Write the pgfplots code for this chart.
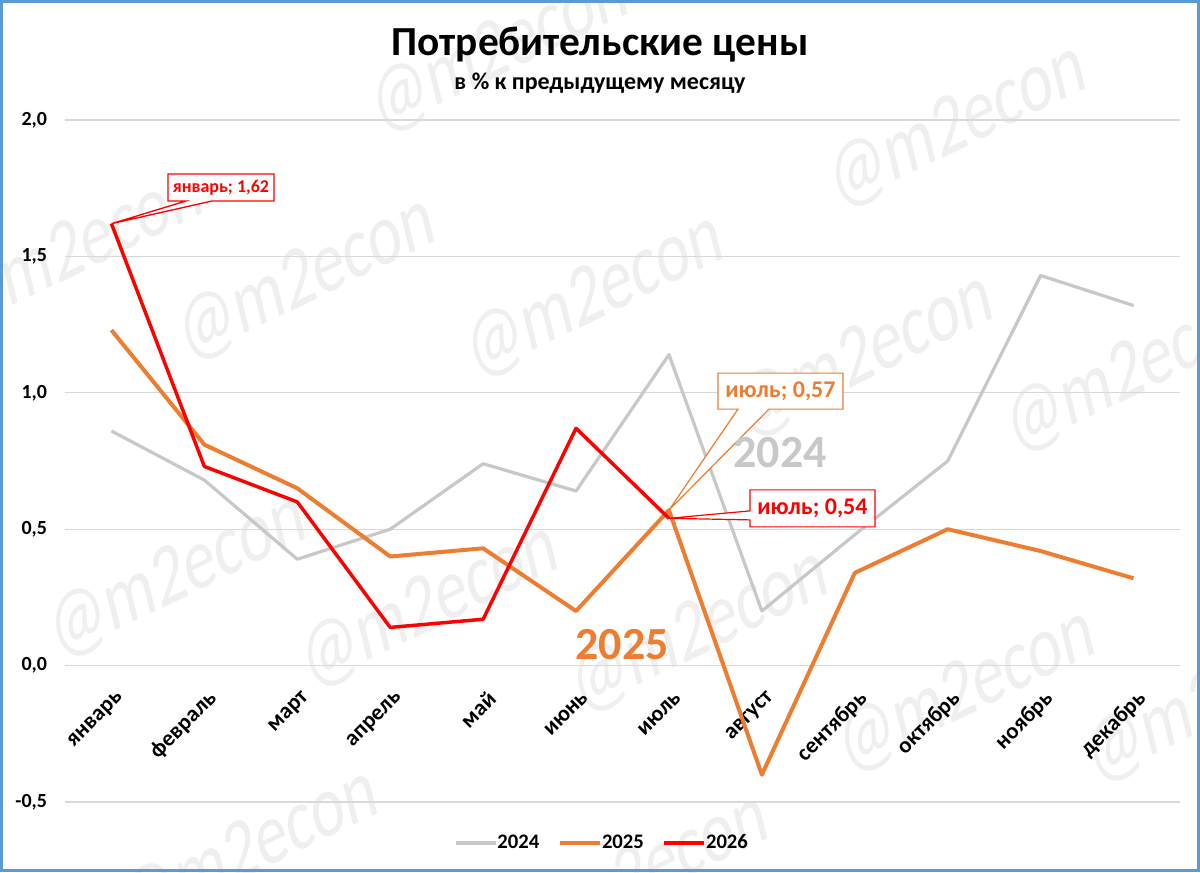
\documentclass[border=0pt]{standalone}
\usepackage{pgfplots}
\pgfplotsset{compat=1.18}
\usepackage{fontspec}
\setmainfont{Carlito}
\definecolor{gray24}{HTML}{C8C8C8}
\definecolor{or25}{HTML}{ED7D31}
\definecolor{red26}{HTML}{FF0000}
\definecolor{gridc}{HTML}{D9D9D9}
\definecolor{framec}{HTML}{5B9BD5}
\definecolor{wm}{HTML}{EFEFEF}
\begin{document}
\begin{tikzpicture}
\begin{scope}[x=0.75pt,y=-0.75pt]
\path[use as bounding box] (0,0) rectangle (1200,872);
\fill[white] (0,0) rectangle (1200,872);
\begin{scope}
\clip (0,0) rectangle (1200,872);
\foreach \xx/\yy in {500/50, 958/125, 75/250, 307/278, 595/295, 865/355, 1135/370, 178/575, 430/605, 700/630, 967/690, 1215/700, 250/850, 640/875}
  \node[yscale=1.4, rotate=19, text=wm, font=\fontsize{48}{48}\selectfont] at (\xx,\yy) {@m2econ};
\end{scope}
\node[font=\bfseries\fontsize{31}{36}\selectfont] at (600,45) {Потребительские цены};
\node[font=\bfseries\fontsize{18}{22}\selectfont] at (600,83) {в \% к предыдущему месяцу};
\end{scope}

\begin{axis}[
  at={(48.75pt,-601.5pt)}, anchor=south west,
  scale only axis, width=836.25pt, height=511.5pt,
  xmin=-0.5, xmax=11.5, ymin=-0.5, ymax=2,
  axis x line*=middle, axis y line*=left,
  axis line style={draw=none},
  major tick length=0pt,
  ymajorgrids, grid style={gridc, line width=1pt},
  ytick={-0.5,0,0.5,1,1.5,2},
  yticklabels={{-0,5},{0,0},{0,5},{1,0},{1,5},{2,0}},
  xtick={0,...,11},
  xticklabels={январь,февраль,март,апрель,май,июнь,июль,август,сентябрь,октябрь,ноябрь,декабрь},
  yticklabel style={font=\bfseries\fontsize{15}{18}\selectfont, xshift=-10pt},
  xticklabel style={font=\bfseries\fontsize{17}{20}\selectfont, rotate=45, anchor=east, xshift=-7.5pt, yshift=-20.5pt},
  clip=false,
  legend style={at={(0.482,-0.06)}, anchor=center, draw=none, fill=none,
    legend columns=3, font=\bfseries\fontsize{15.5}{18}\selectfont,
    /tikz/every odd column/.append style={column sep=-2pt},
    /tikz/every even column/.append style={column sep=12pt}},
  legend cell align=left,
  legend image code/.code={\draw[#1] (0pt,0pt) -- (30pt,0pt);},
  line join=round,
]
\addplot[gray24, line width=2.4pt] coordinates {(0,0.86)(1,0.68)(2,0.39)(3,0.50)(4,0.74)(5,0.64)(6,1.14)(7,0.20)(8,0.48)(9,0.75)(10,1.43)(11,1.32)};
\addlegendentry{2024}
\addplot[or25, line width=3pt] coordinates {(0,1.23)(1,0.81)(2,0.65)(3,0.40)(4,0.43)(5,0.20)(6,0.57)(7,-0.40)(8,0.34)(9,0.50)(10,0.42)(11,0.32)};
\addlegendentry{2025}
\addplot[red26, line width=2.6pt] coordinates {(0,1.62)(1,0.73)(2,0.60)(3,0.14)(4,0.17)(5,0.87)(6,0.54)};
\addlegendentry{2026}

\coordinate (P1) at (axis cs:0,1.62);
\draw[red26, line width=1pt, fill=white, line join=miter] (P1) -- ([shift={(55.9pt,17pt)}]P1) -- ([shift={(42.4pt,17pt)}]P1) -- ([shift={(42.4pt,37.3pt)}]P1) -- ([shift={(121.9pt,37.3pt)}]P1) -- ([shift={(121.9pt,17pt)}]P1) -- ([shift={(75.4pt,17pt)}]P1) -- cycle;
\node[red26, font=\bfseries\fontsize{13.5}{16}\selectfont] at ([shift={(82.1pt,27.1pt)}]P1) {январь; 1,62};

\coordinate (P2) at (axis cs:6,0.57);
\draw[or25, line width=0.9pt, fill=white, line join=miter] (P2) -- ([shift={(51.75pt,75.75pt)}]P2) -- ([shift={(36.75pt,75.75pt)}]P2) -- ([shift={(36.75pt,102.75pt)}]P2) -- ([shift={(130.5pt,102.75pt)}]P2) -- ([shift={(130.5pt,75.75pt)}]P2) -- ([shift={(75pt,75.75pt)}]P2) -- cycle;
\node[or25, font=\bfseries\fontsize{18}{22}\selectfont] at ([shift={(83.6pt,89.25pt)}]P2) {июль; 0,57};

\coordinate (P3) at (axis cs:6,0.54);
\draw[red26, line width=0.9pt, fill=white, line join=miter] (P3) -- ([shift={(60.75pt,5.55pt)}]P3) -- ([shift={(60.75pt,21.3pt)}]P3) -- ([shift={(154.5pt,21.3pt)}]P3) -- ([shift={(154.5pt,-6.45pt)}]P3) -- ([shift={(60.75pt,-6.45pt)}]P3) -- ([shift={(60.75pt,-1.2pt)}]P3) -- cycle;
\node[red26, font=\bfseries\fontsize{18}{22}\selectfont] at ([shift={(107.6pt,7.4pt)}]P3) {июль; 0,54};
\end{axis}

\begin{scope}[x=0.75pt,y=-0.75pt]
\node[text=gray24, font=\bfseries\fontsize{34.5}{40}\selectfont] at (780,453) {2024};
\node[text=or25, font=\bfseries\fontsize{34.5}{40}\selectfont] at (622,645) {2025};
\draw[framec, line width=2.25pt] (1.5,1.5) rectangle (1198.5,870.5);
\end{scope}
\end{tikzpicture}
\end{document}
